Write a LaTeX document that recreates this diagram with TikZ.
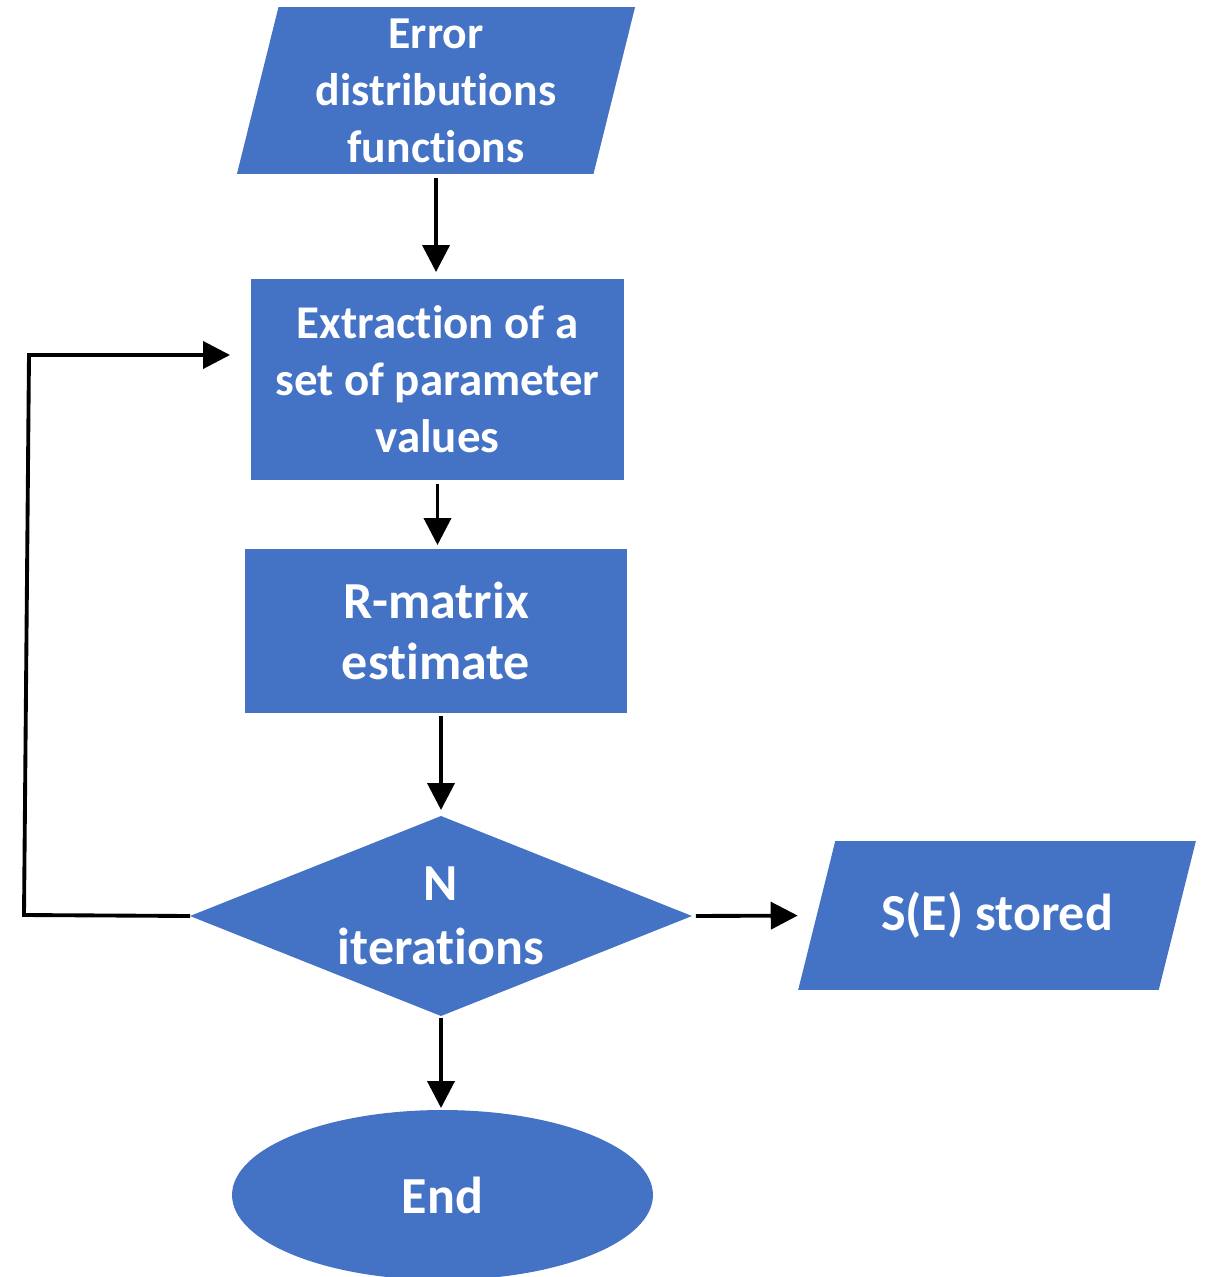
\documentclass[tikz,border=0pt]{standalone}
\usepackage{fontspec}
\setmainfont{Carlito}[Ligatures=NoCommon]
\usetikzlibrary{shapes.geometric,arrows.meta}
\definecolor{flowblue}{HTML}{4472C4}

\begin{document}
\begin{tikzpicture}[x=0.02cm,y=-0.02cm,
		blk/.style={fill=flowblue,draw=none,text=white,align=center,inner sep=0pt,outer sep=0pt,font=\bfseries\fontsize{29.6}{34}\selectfont},
		io/.style={blk,trapezium,trapezium left angle=76,trapezium right angle=104},
		arr/.style={line width=2.2pt,-{Triangle[length=0.54cm,width=0.54cm]}}]
	\useasboundingbox (0,0) rectangle (1205,1277);
		\node[io,font=\bfseries\fontsize{26}{32.4}\selectfont] (errfun) at (436,90.5) {\parbox[c][3.34cm][c]{6.3cm}{\centering Error\\distributions\\functions}};
		\node[blk,rectangle,minimum width=7.46cm,minimum height=4.02cm,font=\bfseries\fontsize{26.7}{32.4}\selectfont] (extract) at (437.5,379.5) {Extraction of a\\set of parameter\\values};
		\node[blk,rectangle,minimum width=7.64cm,minimum height=3.28cm,font=\bfseries\fontsize{29.6}{34.5}\selectfont] (rmat) at (436,631) {R-matrix\\estimate};
		\node[blk,diamond,aspect=2.51,minimum width=10.04cm,minimum height=4cm,font=\bfseries\fontsize{29.6}{36.4}\selectfont] (iter) at (441,916) {N\\iterations};
		\node[io] (stored) at (997,915.5) {\parbox[c][2.98cm][c]{6.47cm}{\centering S(E) stored}};
		\node[blk,ellipse,minimum width=8.42cm,minimum height=3.4cm] (finish) at (442.5,1195) {End};
		\coordinate (loopbot) at (24,915);
		\coordinate (looptop) at (29,355);

		\draw[arr,shorten <=0.08cm,shorten >=0.14cm] (errfun.south) -- (errfun.south |- extract.north);
		\draw[arr,shorten <=0.08cm,shorten >=0.08cm] (extract.south) -- (extract.south |- rmat.north);
		\draw[arr,shorten <=0.06cm,shorten >=0.12cm] (iter.north |- rmat.south) -- (iter.north);
		\draw[arr,shorten <=0.08cm,shorten >=0.38cm] (iter.east) -- (stored.west);
		\draw[arr,shorten <=0.04cm,shorten >=0.04cm] (iter.south) -- (iter.south |- finish.north);
		\draw[arr,shorten >=0.42cm] (iter.west) -- (loopbot) -- (looptop) -- (looptop -| extract.west);
\end{tikzpicture}
\end{document}
